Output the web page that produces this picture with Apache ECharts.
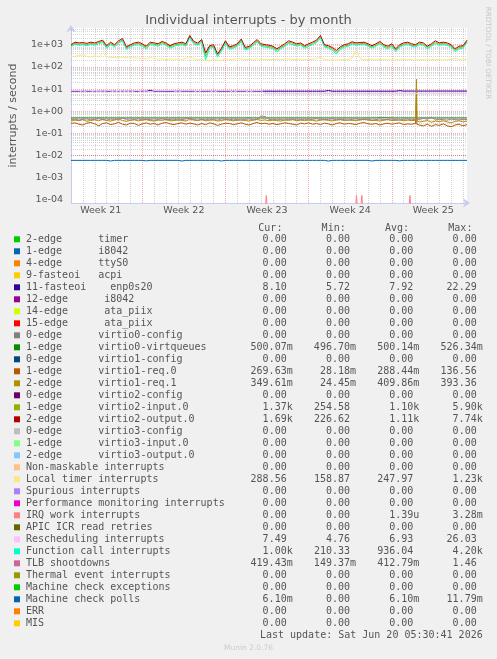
<!DOCTYPE html>
<html><head><meta charset="utf-8">
<script src="https://cdn.jsdelivr.net/npm/echarts@6/dist/echarts.min.js"></script>
<style>html,body{margin:0;padding:0;background:#F0F0F0}#c{width:497px;height:659px}</style>
</head><body><div id="c"></div><script>
// ---------- data ----------
const SPAN_DAYS = 100 / 3;           // time span shown (days)
const FIRST_WEEK_START = -1;         // day offset of the start of Week 21 (Sunday)
const weekLabels = ['Week 21', 'Week 22', 'Week 23', 'Week 24', 'Week 25'];
const yTickExponents = [-4, -3, -2, -1, 0, 1, 2, 3];

const enp0s20 = [7.9,7.9,7.8,7.9,7.9,7.9,7.8,7.9,7.9,7.9,
 7.9,7.9,7.8,7.9,7.9,7.9,7.9,7.8,7.9,7.9,
 8.8,7.9,7.9,7.9,7.9,7.8,7.9,7.9,7.9,7.9,
 7.9,7.9,7.8,7.9,7.9,7.9,7.9,7.9,7.8,7.9,
 7.9,7.9,7.9,7.9,7.9,7.8,7.9,7.9,7.9,8.0,
 8.0,8.0,8.0,8.0,8.0,8.0,8.0,8.0,8.0,8.0,
 8.0,8.0,8.0,8.0,8.0,8.6,8.0,8.0,8.0,8.0,
 8.0,8.0,8.0,8.0,8.0,8.0,8.0,8.0,8.0,8.0,
 8.0,8.0,8.0,8.5,8.1,8.1,8.1,8.1,8.1,8.1,
 8.1,8.1,8.1,8.1,8.1,8.1,8.1,8.1,8.1,8.1,
 8.1];
const virtqueues = [0.50,0.50,0.50,0.50,0.50,0.50,0.50,0.50,0.50,0.50,0.50,0.50,0.50,0.50,0.50,0.50,0.50,
 0.50,0.50,0.50,0.50,0.50,0.50,0.50,0.50,0.50,0.51,0.50,0.50,0.50,0.50,0.50,0.50,0.50];
const req0 = [0.28,0.30,0.26,0.24,0.29,0.31,0.27,0.22,0.28,0.30,0.25,0.27,0.32,0.26,0.24,0.29,0.28,0.23,0.27,0.30,
 0.26,0.28,0.24,0.29,0.31,0.27,0.25,0.28,0.30,0.26,0.29,0.27,0.24,0.28,0.25,0.30,0.27,0.23,0.26,0.29,
 0.28,0.25,0.27,0.30,0.26,0.24,0.28,0.31,0.27,0.29,0.26,0.28,0.25,0.27,0.30,0.28,0.26,0.24,0.29,0.27,
 0.30,0.26,0.28,0.25,0.29,0.27,0.24,0.28,0.30,0.26,0.28,0.27,0.25,0.29,0.31,0.27,0.26,0.28,0.24,0.27,
 0.29,0.26,0.28,0.30,0.25,0.27,0.26,0.28,0.24,0.22,0.26,0.21,0.25,0.23,0.27,0.22,0.20,0.24,0.26,0.22,0.25];
const req0SpikeDays = [29.05, 29.08, 29.11];
const req0SpikeVals = [0.27, 6.0, 0.26];
const req1 = [0.36,0.40,0.38,0.42,0.35,0.39,0.41,0.37,0.44,0.38,0.36,0.40,0.45,0.38,0.35,0.39,0.41,0.37,0.40,0.42,
 0.38,0.36,0.40,0.39,0.43,0.37,0.38,0.41,0.39,0.36,0.44,0.40,0.38,0.42,0.37,0.39,0.41,0.36,0.38,0.42,
 0.40,0.37,0.39,0.41,0.38,0.36,0.40,0.43,0.39,0.41,0.37,0.40,0.38,0.36,0.41,0.39,0.42,0.37,0.40,0.38,
 0.41,0.39,0.36,0.40,0.43,0.38,0.37,0.40,0.42,0.38,0.40,0.39,0.37,0.41,0.44,0.40,0.38,0.39,0.36,0.40,
 0.42,0.38,0.39,0.41,0.37,0.40,0.38,0.39,0.33,0.35,0.38,0.32,0.36,0.34,0.37,0.33,0.30,0.35,0.37,0.33,0.36];
const req1SpikeDays = [29.04, 29.08, 29.12];
const req1SpikeVals = [0.39, 28, 0.37];
const input0 = [900,1150,1050,1100,1000,1150,1050,1250,1400,800,
 1150,900,1300,1650,700,900,1050,1150,950,750,
 1150,1050,950,1250,1050,800,950,1050,1150,950,
 2300,1250,1050,1500,300,800,850,330,600,1300,
 700,800,950,1600,650,750,1050,1500,950,880,
 830,750,560,750,950,1300,1150,950,1050,800,
 950,1150,1400,2300,880,800,650,450,700,880,
 950,1200,1050,1100,1150,950,800,950,1250,880,
 750,950,560,880,1050,1150,950,880,1150,1050,
 750,950,1300,1050,1150,1050,880,560,750,800,
 1400];
const output0 = [1000,1300,1200,1250,1150,1300,1200,1400,1600,900,
 1300,1000,1500,1900,800,1000,1200,1300,1100,850,
 1300,1200,1100,1400,1200,900,1100,1200,1300,1100,
 2600,1400,1200,1700,420,900,1000,380,700,1500,
 800,900,1100,1800,750,850,1200,1700,1100,1000,
 950,850,650,850,1100,1500,1300,1100,1200,900,
 1100,1300,1600,2600,1000,900,750,550,800,1000,
 1100,1350,1200,1250,1300,1100,900,1100,1400,1000,
 850,1100,650,1000,1200,1300,1100,1000,1300,1200,
 850,1100,1500,1200,1300,1200,1000,650,850,900,
 1600];
const localTimer = [280,300,330,350,300,280,320,290,420,300,
 260,270,250,280,260,250,260,240,250,230,
 260,240,220,230,210,230,220,230,210,240,
 300,230,210,220,190,180,230,190,200,230,
 210,220,240,230,210,220,210,230,220,210,
 215,210,220,210,220,230,215,210,220,215,
 210,220,240,260,215,210,205,200,210,215,
 220,250,580,240,210,215,220,210,215,220,
 210,205,210,215,220,210,215,205,210,215,
 205,210,215,210,205,210,215,240,210,205,
 230];
const irqWorkDays = [0, 16.36, 16.44, 16.52, 23.95, 24.03, 24.11, 24.40, 24.48, 24.56, 28.45, 28.53, 28.61, SPAN_DAYS];
const irqWorkVals = [0.00005,0.00005,0.00016,0.00005,0.00005,0.00016,0.00005,0.00005,0.00016,0.00005,0.00005,0.00016,0.00005,0.00005];
const resched = [8.3,8.3,8.3,7.2,8.3,8.3,7.2,8.3,7.2,8.3,
 8.3,7.2,8.3,7.2,8.3,7.2,8.3,8.3,7.2,8.3,
 7.4,8.3,8.3,8.3,8.3,8.3,8.3,7.2,8.3,8.3,
 8.3,8.3,7.2,8.3,8.3,8.3,7.2,8.3,8.3,8.3,
 8.3,7.2,8.3,8.3,8.3,7.2,8.3,8.3,8.3,6.3,
 6.2,6.3,6.2,6.2,6.3,6.2,6.2,6.3,6.2,6.2,
 6.3,6.2,6.2,6.2,6.3,6.2,6.2,6.2,6.3,6.2,
 6.2,6.3,6.2,6.2,6.2,6.3,6.2,6.2,6.2,6.3,
 6.2,6.2,6.3,6.2,6.2,6.2,6.3,6.2,6.2,6.2,
 6.3,6.4,6.3,6.2,6.3,6.3,6.2,6.3,6.3,6.2,
 6.4];
const funcCall = [800,1050,950,1000,900,1050,950,1100,1250,700,
 1000,800,1150,1500,620,800,950,1000,850,650,
 1000,950,850,1100,950,700,850,950,1000,850,
 2000,1100,950,1300,210,700,750,280,500,1150,
 620,700,850,1400,580,650,950,1300,850,780,
 730,650,480,650,850,1150,1000,850,950,700,
 850,1000,1250,2000,780,700,560,380,620,780,
 850,1050,950,1000,1000,850,700,850,1100,780,
 650,850,480,780,950,1000,850,780,1000,950,
 650,850,1150,950,1000,950,780,480,650,700,
 1250];
const tlb = [0.42,0.44,0.40,0.43,0.45,0.41,0.43,0.46,0.42,0.40,0.44,0.43,0.41,0.50,0.42,0.40,0.43,0.45,0.41,0.44,
 0.42,0.40,0.43,0.46,0.41,0.43,0.44,0.40,0.42,0.45,0.48,0.42,0.40,0.43,0.41,0.44,0.42,0.40,0.45,0.43,
 0.41,0.44,0.42,0.40,0.43,0.45,0.41,0.43,0.62,0.58,0.43,0.41,0.44,0.42,0.40,0.43,0.45,0.41,0.42,0.44,
 0.40,0.43,0.46,0.42,0.41,0.43,0.45,0.41,0.44,0.42,0.40,0.43,0.45,0.41,0.43,0.44,0.40,0.42,0.45,0.41,
 0.43,0.44,0.42,0.40,0.43,0.45,0.41,0.44,0.42,0.48,0.43,0.55,0.41,0.43,0.42,0.40,0.44,0.42,0.41,0.43,0.42];
const mcePolls = [0.0061,0.0061,0.0061,0.0061,0.0061,0.0061,0.0061,0.0061,0.0061,0.0061,
 0.0057,0.0061,0.0061,0.0061,0.0061,0.0061,0.0061,0.0061,0.0061,0.0058,
 0.0061,0.0061,0.0061,0.0061,0.0061,0.0061,0.0061,0.0061,0.0057,0.0061,
 0.0061,0.0061,0.0061,0.0061,0.0061,0.0061,0.0061,0.0061,0.0057,0.0061,
 0.0061,0.0061,0.0061,0.0061,0.0061,0.0061,0.0061,0.0061,0.0061,0.0061,
 0.0061,0.0061,0.0061,0.0061,0.0061,0.0061,0.0061,0.0061,0.0061,0.0061,
 0.0061,0.0061,0.0061,0.0061,0.0061,0.0057,0.0061,0.0061,0.0061,0.0061,
 0.0061,0.0061,0.0061,0.0061,0.0061,0.0061,0.0057,0.0061,0.0061,0.0061,
 0.0061,0.0061,0.0061,0.0058,0.0061,0.0061,0.0061,0.0061,0.0061,0.0061,
 0.0061,0.0061,0.0061,0.0061,0.0061,0.0061,0.0061,0.0061,0.0061,0.0061,
 0.0061];

// legend table
const legendNames = ['2-edge      timer','1-edge      i8042','4-edge      ttyS0','9-fasteoi   acpi','11-fasteoi    enp0s20',
 '12-edge      i8042','14-edge      ata_piix','15-edge      ata_piix','0-edge      virtio0-config','1-edge      virtio0-virtqueues',
 '0-edge      virtio1-config','1-edge      virtio1-req.0','2-edge      virtio1-req.1','0-edge      virtio2-config',
 '1-edge      virtio2-input.0','2-edge      virtio2-output.0','0-edge      virtio3-config','1-edge      virtio3-input.0',
 '2-edge      virtio3-output.0','Non-maskable interrupts','Local timer interrupts','Spurious interrupts',
 'Performance monitoring interrupts','IRQ work interrupts','APIC ICR read retries','Rescheduling interrupts',
 'Function call interrupts','TLB shootdowns','Thermal event interrupts','Machine check exceptions','Machine check polls','ERR','MIS'];
const legendColors = ['#00CC00','#0066B3','#FF8000','#FFCC00','#330099','#990099','#CCFF00','#FF0000','#808080','#008F00',
 '#00487D','#B35A00','#B38F00','#6B006B','#8FB300','#B30000','#BEBEBE','#80FF80','#80C9FF','#FFC080','#FFE680','#AA80FF',
 '#EE00CC','#FF8080','#666600','#FFBFFF','#00FFCC','#CC6699','#999900','#00CC00','#0066B3','#FF8000','#FFCC00'];
const curVals = ['0.00','0.00','0.00','0.00','8.10','0.00','0.00','0.00','0.00','500.07m','0.00','269.63m','349.61m','0.00',
 '1.37k','1.69k','0.00','0.00','0.00','0.00','288.56','0.00','0.00','0.00','0.00','7.49','1.00k','419.43m','0.00','0.00','6.10m','0.00','0.00'];
const minVals = ['0.00','0.00','0.00','0.00','5.72','0.00','0.00','0.00','0.00','496.70m','0.00','28.18m','24.45m','0.00',
 '254.58','226.62','0.00','0.00','0.00','0.00','158.87','0.00','0.00','0.00','0.00','4.76','210.33','149.37m','0.00','0.00','0.00','0.00','0.00'];
const avgVals = ['0.00','0.00','0.00','0.00','7.92','0.00','0.00','0.00','0.00','500.14m','0.00','288.44m','409.86m','0.00',
 '1.10k','1.11k','0.00','0.00','0.00','0.00','247.97','0.00','0.00','1.39u','0.00','6.93','936.04','412.79m','0.00','0.00','6.10m','0.00','0.00'];
const maxVals = ['0.00','0.00','0.00','0.00','22.29','0.00','0.00','0.00','0.00','526.34m','0.00','136.56','393.36','0.00',
 '5.90k','7.74k','0.00','0.00','0.00','0.00','1.23k','0.00','0.00','3.28m','0.00','26.03','4.20k','1.46','0.00','0.00','11.79m','0.00','0.00'];
const columnHeads = ['Cur:', 'Min:', 'Avg:', 'Max:'];
const lastUpdate = 'Last update: Sat Jun 20 05:30:41 2026';

// ---------- chart ----------
const Y_MIN = 7.3e-5, Y_MAX = 5660;
function xy(arr) { const n = arr.length; return arr.map((v, i) => [i * SPAN_DAYS / (n - 1), v]); }
function withExtra(arr, days, vals) {
  const pts = xy(arr).concat(days.map((d, i) => [d, vals[i]]));
  pts.sort((a, b) => a[0] - b[0]);
  return pts;
}

const plotted = [
  [4, xy(enp0s20)], [9, xy(virtqueues)], [11, withExtra(req0, req0SpikeDays, req0SpikeVals)],
  [12, withExtra(req1, req1SpikeDays, req1SpikeVals)], [14, xy(input0)], [15, xy(output0)],
  [20, xy(localTimer)], [23, irqWorkDays.map((d, i) => [d, irqWorkVals[i]])], [25, xy(resched)],
  [26, xy(funcCall)], [27, xy(tlb)], [30, xy(mcePolls)]
];

const gridLines = [];
const MINOR = {color: 'rgba(170,170,170,0.5)', type: [1, 1], width: 1};
const MAJOR = {color: 'rgba(240,90,90,0.5)', type: [1, 1], width: 1};
for (let e = -5; e <= 3; e++) {
  for (let m = 1; m <= 9; m++) {
    const v = m * Math.pow(10, e);
    if (v < Y_MIN || v > Y_MAX) continue;
    gridLines.push({yAxis: v, lineStyle: m === 1 ? MAJOR : MINOR});
  }
}
for (let d = 1; d < SPAN_DAYS; d++) {
  const isWeek = ((d - FIRST_WEEK_START) % 7) === 0;
  gridLines.push({xAxis: d, lineStyle: isWeek ? MAJOR : MINOR});
}
gridLines.push({yAxis: Y_MIN * 1.01, lineStyle: {color: '#D9CB8E', type: 'solid', width: 1}});

const weekCenters = weekLabels.map((_, k) => FIRST_WEEK_START + 7 * k + 3.5);

const series = [{
  type: 'line', data: [], silent: true, z: 1,
  markLine: {silent: true, z: 1, symbol: ['none', 'none'], label: {show: false}, animation: false, data: gridLines}
}];
plotted.forEach(([idx, pts]) => {
  series.push({
    type: 'line', name: legendNames[idx], z: 3, data: pts,
    showSymbol: false, symbol: 'none', lineStyle: {width: 1, color: legendColors[idx]},
    itemStyle: {color: legendColors[idx]}, animation: false, silent: true
  });
});

const FONT = 'DejaVu Sans';
const MONO = '10px "DejaVu Sans Mono"';
const TXT = '#555555';
const graphics = [];
const ROW0 = 239.3, ROWH = 12;
const colEnds = [286.7, 350, 413.3, 476.7];
columnHeads.forEach((h, c) => {
  graphics.push({type: 'text', x: colEnds[c] - 4.3, y: ROW0 - ROWH + 1,
    style: {text: h, font: MONO, fill: TXT, align: 'right', textAlign: 'right', verticalAlign: 'middle', textVerticalAlign: 'middle'}});
});
legendNames.forEach((name, i) => {
  const y = ROW0 + ROWH * i;
  graphics.push({type: 'rect', shape: {x: 14, y: y - 3, width: 6, height: 6}, style: {fill: legendColors[i]}});
  graphics.push({type: 'text', x: 26, y: y,
    style: {text: name, font: MONO, fill: TXT, align: 'left', textAlign: 'left', verticalAlign: 'middle', textVerticalAlign: 'middle'}});
  [curVals, minVals, avgVals, maxVals].forEach((arr, c) => {
    const s = arr[i];
    const hasUnit = /[a-z]$/i.test(s);
    graphics.push({type: 'text', x: hasUnit ? colEnds[c] + 6 : colEnds[c], y: y,
      style: {text: s, font: MONO, fill: TXT, align: 'right', textAlign: 'right', verticalAlign: 'middle', textVerticalAlign: 'middle'}});
  });
});
graphics.push({type: 'text', x: 482.7, y: ROW0 + ROWH * legendNames.length,
  style: {text: lastUpdate, font: MONO, fill: TXT, align: 'right', textAlign: 'right', verticalAlign: 'middle', textVerticalAlign: 'middle'}});
graphics.push({type: 'text', x: 248.5, y: 648,
  style: {text: 'Munin 2.0.76', font: '7.5px "DejaVu Sans"', fill: '#CCCCCC', align: 'center', textAlign: 'center', verticalAlign: 'middle', textVerticalAlign: 'middle'}});
graphics.push({type: 'text', x: 488, y: 53, rotation: -Math.PI / 2,
  style: {text: 'RRDTOOL / TOBI OETIKER', font: '7.2px "DejaVu Sans"', fill: '#C8C8C8', align: 'center', textAlign: 'center', verticalAlign: 'middle', textVerticalAlign: 'middle'}});

function expLabel(v) {
  const l = Math.log10(v);
  const e = Math.round(l);
  if (Math.abs(l - e) > 1e-6 || yTickExponents.indexOf(e) < 0) return '';
  const a = Math.abs(e);
  return '1e' + (e < 0 ? '-' : '+') + (a < 10 ? '0' : '') + a;
}

const option = {
  animation: false,
  backgroundColor: '#F0F0F0',
  title: {text: 'Individual interrupts - by month', left: 'center', top: 9,
    textStyle: {fontSize: 13, fontWeight: 'normal', color: TXT, fontFamily: FONT}},
  grid: {left: 67, top: 28, width: 400, height: 175, show: true, backgroundColor: '#FFFFFF', borderWidth: 0},
  xAxis: {
    type: 'value', min: 0, max: SPAN_DAYS,
    axisLine: {show: true, lineStyle: {color: '#C8CCF0'}, symbol: ['none', 'arrow'], symbolSize: [7, 7], symbolOffset: [0, 3]},
    axisTick: {show: false}, splitLine: {show: false},
    axisLabel: {customValues: weekCenters, formatter: (v) => weekLabels[Math.round((v - weekCenters[0]) / 7)] || '',
      fontSize: 9.5, color: TXT, fontFamily: FONT, margin: 3}
  },
  yAxis: {
    type: 'log', logBase: 10, min: Y_MIN, max: Y_MAX, splitNumber: 8,
    name: 'interrupts / second', nameLocation: 'middle', nameGap: 52,
    nameTextStyle: {fontSize: 11, color: TXT, fontFamily: FONT},
    axisLine: {show: true, lineStyle: {color: '#C8CCF0'}, symbol: ['none', 'arrow'], symbolSize: [7, 7], symbolOffset: [0, 3]},
    axisTick: {show: false}, splitLine: {show: false},
    axisLabel: {formatter: expLabel, fontSize: 9.5, color: TXT, fontFamily: FONT, margin: 8, showMinLabel: false, showMaxLabel: false}
  },
  graphic: graphics,
  series: series
};
const chart = echarts.init(document.getElementById('c'), null, {renderer: 'canvas', width: 497, height: 659});
chart.setOption(option);
</script></body></html>
